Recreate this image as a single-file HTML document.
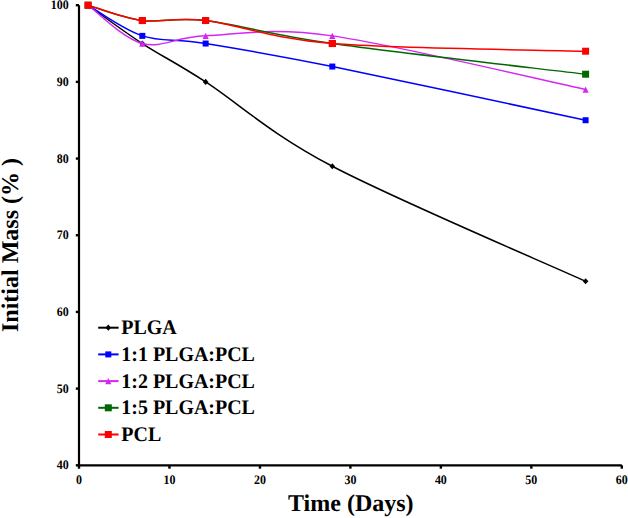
<!DOCTYPE html><html><head><meta charset="utf-8"><style>html,body{margin:0;padding:0;background:#fff;}svg{display:block;}text{font-family:"Liberation Serif",serif;font-weight:bold;fill:#000;text-rendering:geometricPrecision;}</style></head><body>
<svg width="628" height="518" viewBox="0 0 628 518">
<path d="M88.05,5.20 C97.09,11.59 122.73,30.76 142.33,43.54 C161.93,56.32 173.99,61.43 205.65,81.88 C237.32,102.33 268.98,133.01 332.31,166.24 C395.63,199.46 543.40,262.09 585.61,281.26" fill="none" stroke="#000000" stroke-width="1.5"/>
<path d="M88.05,2.10 L90.85,5.20 L88.05,8.30 L85.25,5.20 Z" fill="#000000"/>
<path d="M142.33,40.44 L145.13,43.54 L142.33,46.64 L139.53,43.54 Z" fill="#000000"/>
<path d="M205.65,78.78 L208.45,81.88 L205.65,84.98 L202.85,81.88 Z" fill="#000000"/>
<path d="M332.31,163.14 L335.11,166.24 L332.31,169.34 L329.51,166.24 Z" fill="#000000"/>
<path d="M585.61,278.16 L588.41,281.26 L585.61,284.36 L582.81,281.26 Z" fill="#000000"/>
<path d="M88.05,5.20 C97.09,10.31 122.73,29.48 142.33,35.87 C161.93,42.26 173.99,38.43 205.65,43.54 C237.32,48.65 268.98,53.77 332.31,66.55 C395.63,79.33 543.40,111.28 585.61,120.23" fill="none" stroke="#0000ff" stroke-width="1.5"/>
<rect x="85.05" y="2.20" width="6.0" height="6.0" fill="#0000ff"/>
<rect x="139.33" y="32.87" width="6.0" height="6.0" fill="#0000ff"/>
<rect x="202.65" y="40.54" width="6.0" height="6.0" fill="#0000ff"/>
<rect x="329.31" y="63.55" width="6.0" height="6.0" fill="#0000ff"/>
<rect x="582.61" y="117.23" width="6.0" height="6.0" fill="#0000ff"/>
<path d="M88.05,5.20 C97.09,11.59 122.73,38.43 142.33,43.54 C161.93,48.65 173.99,37.15 205.65,35.87 C237.32,34.60 268.98,26.93 332.31,35.87 C395.63,44.82 543.40,80.61 585.61,89.55" fill="none" stroke="#d428f2" stroke-width="1.5"/>
<path d="M88.05,2.10 L91.15,8.30 L84.95,8.30 Z" fill="#d428f2"/>
<path d="M142.33,40.44 L145.43,46.64 L139.23,46.64 Z" fill="#d428f2"/>
<path d="M205.65,32.77 L208.75,38.97 L202.55,38.97 Z" fill="#d428f2"/>
<path d="M332.31,32.77 L335.41,38.97 L329.21,38.97 Z" fill="#d428f2"/>
<path d="M585.61,86.45 L588.71,92.65 L582.51,92.65 Z" fill="#d428f2"/>
<path d="M88.05,5.20 C97.09,7.76 122.73,17.98 142.33,20.54 C161.93,23.09 173.99,16.70 205.65,20.54 C237.32,24.37 268.98,34.60 332.31,43.54 C395.63,52.49 543.40,69.10 585.61,74.21" fill="none" stroke="#006800" stroke-width="1.5"/>
<rect x="84.55" y="1.70" width="7.0" height="7.0" fill="#006800"/>
<rect x="138.83" y="17.04" width="7.0" height="7.0" fill="#006800"/>
<rect x="202.15" y="17.04" width="7.0" height="7.0" fill="#006800"/>
<rect x="328.81" y="40.04" width="7.0" height="7.0" fill="#006800"/>
<rect x="582.11" y="70.71" width="7.0" height="7.0" fill="#006800"/>
<path d="M88.05,5.20 C97.09,7.76 122.73,17.98 142.33,20.54 C161.93,23.09 173.99,16.70 205.65,20.54 C237.32,24.37 268.98,38.43 332.31,43.54 C395.63,48.65 543.40,49.93 585.61,51.21" fill="none" stroke="#ff0000" stroke-width="1.5"/>
<rect x="84.55" y="1.70" width="7.0" height="7.0" fill="#ff0000"/>
<rect x="138.83" y="17.04" width="7.0" height="7.0" fill="#ff0000"/>
<rect x="202.15" y="17.04" width="7.0" height="7.0" fill="#ff0000"/>
<rect x="328.81" y="40.04" width="7.0" height="7.0" fill="#ff0000"/>
<rect x="582.11" y="47.71" width="7.0" height="7.0" fill="#ff0000"/>
<path d="M79.0,5.2 L79.0,465.3 L621.8,465.3" fill="none" stroke="#000" stroke-width="2.2"/>
<line x1="75.8" y1="465.30" x2="79.0" y2="465.30" stroke="#000" stroke-width="2.4"/>
<text transform="translate(68.7,469.40) scale(0.92,1)" font-size="13" text-anchor="end">40</text>
<line x1="75.8" y1="388.62" x2="79.0" y2="388.62" stroke="#000" stroke-width="2.4"/>
<text transform="translate(68.7,392.72) scale(0.92,1)" font-size="13" text-anchor="end">50</text>
<line x1="75.8" y1="311.93" x2="79.0" y2="311.93" stroke="#000" stroke-width="2.4"/>
<text transform="translate(68.7,316.03) scale(0.92,1)" font-size="13" text-anchor="end">60</text>
<line x1="75.8" y1="235.25" x2="79.0" y2="235.25" stroke="#000" stroke-width="2.4"/>
<text transform="translate(68.7,239.35) scale(0.92,1)" font-size="13" text-anchor="end">70</text>
<line x1="75.8" y1="158.57" x2="79.0" y2="158.57" stroke="#000" stroke-width="2.4"/>
<text transform="translate(68.7,162.67) scale(0.92,1)" font-size="13" text-anchor="end">80</text>
<line x1="75.8" y1="81.88" x2="79.0" y2="81.88" stroke="#000" stroke-width="2.4"/>
<text transform="translate(68.7,85.98) scale(0.92,1)" font-size="13" text-anchor="end">90</text>
<line x1="75.8" y1="5.20" x2="79.0" y2="5.20" stroke="#000" stroke-width="2.4"/>
<text transform="translate(68.7,9.30) scale(0.92,1)" font-size="13" text-anchor="end">100</text>
<line x1="79.00" y1="465.3" x2="79.00" y2="468.7" stroke="#000" stroke-width="2.4"/>
<text transform="translate(79.00,483.6) scale(0.92,1)" font-size="13" text-anchor="middle">0</text>
<line x1="169.47" y1="465.3" x2="169.47" y2="468.7" stroke="#000" stroke-width="2.4"/>
<text transform="translate(169.47,483.6) scale(0.92,1)" font-size="13" text-anchor="middle">10</text>
<line x1="259.93" y1="465.3" x2="259.93" y2="468.7" stroke="#000" stroke-width="2.4"/>
<text transform="translate(259.93,483.6) scale(0.92,1)" font-size="13" text-anchor="middle">20</text>
<line x1="350.40" y1="465.3" x2="350.40" y2="468.7" stroke="#000" stroke-width="2.4"/>
<text transform="translate(350.40,483.6) scale(0.92,1)" font-size="13" text-anchor="middle">30</text>
<line x1="440.87" y1="465.3" x2="440.87" y2="468.7" stroke="#000" stroke-width="2.4"/>
<text transform="translate(440.87,483.6) scale(0.92,1)" font-size="13" text-anchor="middle">40</text>
<line x1="531.33" y1="465.3" x2="531.33" y2="468.7" stroke="#000" stroke-width="2.4"/>
<text transform="translate(531.33,483.6) scale(0.92,1)" font-size="13" text-anchor="middle">50</text>
<line x1="621.80" y1="465.3" x2="621.80" y2="468.7" stroke="#000" stroke-width="2.4"/>
<text transform="translate(621.80,483.6) scale(0.92,1)" font-size="13" text-anchor="middle">60</text>
<text transform="translate(350.8,511.2)" font-size="24" text-anchor="middle">Time (Days)</text>
<text transform="translate(18.3,245) rotate(-90)" x="0" y="0" font-size="24" text-anchor="middle">Initial Mass (% )</text>
<line x1="98.2" y1="327.70" x2="118.6" y2="327.70" stroke="#000000" stroke-width="2"/>
<path d="M108.30,324.60 L111.10,327.70 L108.30,330.80 L105.50,327.70 Z" fill="#000000"/>
<text transform="translate(121.3,334.20) scale(0.965,1)" font-size="20.7">PLGA</text>
<line x1="98.2" y1="354.40" x2="118.6" y2="354.40" stroke="#0000ff" stroke-width="2"/>
<rect x="105.30" y="351.40" width="6.0" height="6.0" fill="#0000ff"/>
<text transform="translate(121.3,360.90) scale(0.965,1)" font-size="20.7">1:1 PLGA:PCL</text>
<line x1="98.2" y1="381.10" x2="118.6" y2="381.10" stroke="#d428f2" stroke-width="2"/>
<path d="M108.30,378.00 L111.40,384.20 L105.20,384.20 Z" fill="#d428f2"/>
<text transform="translate(121.3,387.60) scale(0.965,1)" font-size="20.7">1:2 PLGA:PCL</text>
<line x1="98.2" y1="407.80" x2="118.6" y2="407.80" stroke="#006800" stroke-width="2"/>
<rect x="104.80" y="404.30" width="7.0" height="7.0" fill="#006800"/>
<text transform="translate(121.3,414.30) scale(0.965,1)" font-size="20.7">1:5 PLGA:PCL</text>
<line x1="98.2" y1="434.50" x2="118.6" y2="434.50" stroke="#ff0000" stroke-width="2"/>
<rect x="104.80" y="431.00" width="7.0" height="7.0" fill="#ff0000"/>
<text transform="translate(121.3,441.00) scale(0.965,1)" font-size="20.7">PCL</text>
</svg></body></html>
